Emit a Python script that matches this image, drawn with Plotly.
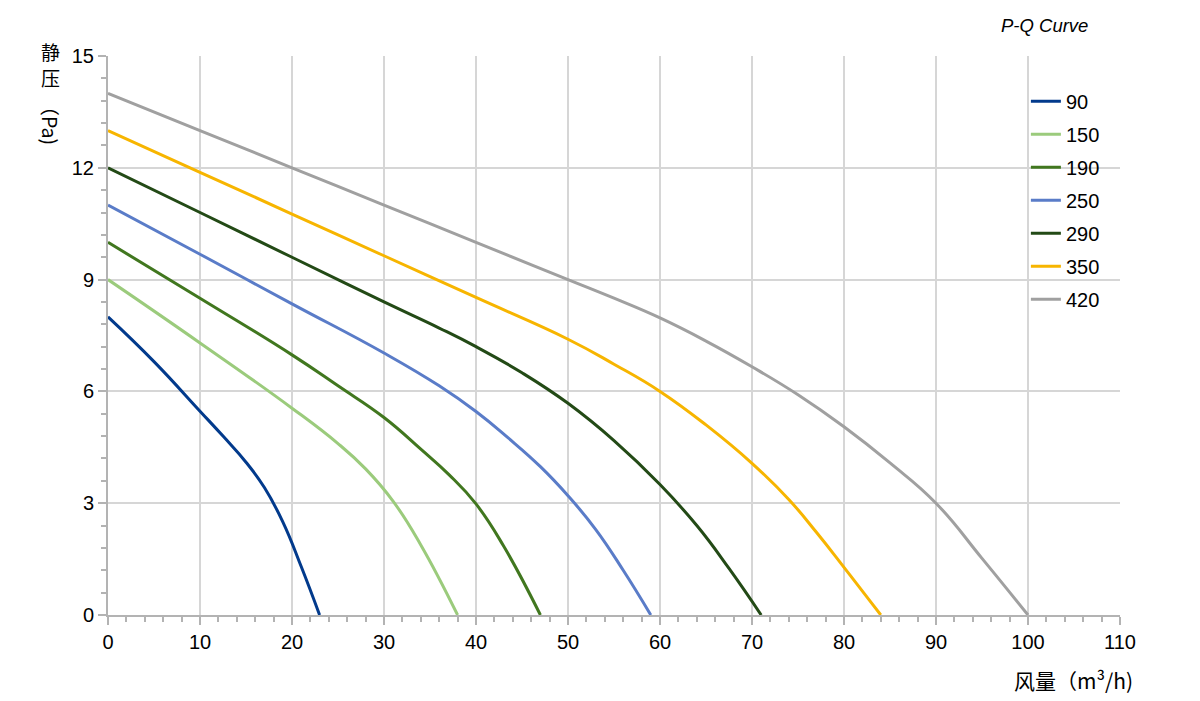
import plotly.graph_objects as go

# Data (airflow Q in m³/h, static pressure P in Pa)
series_names = ["90", "150", "190", "250", "290", "350", "420"]

q_90 = [0, 5, 10, 12.5, 15, 17, 19, 21, 23]
p_90 = [8, 6.8, 5.47, 4.8, 4.1, 3.42, 2.5, 1.3, 0]

q_150 = [0, 10, 20, 25, 28, 31, 34, 38]
p_150 = [9, 7.3, 5.55, 4.6, 3.92, 3.05, 1.88, 0]

q_190 = [0, 10, 20, 25, 30, 34, 37, 40, 43, 47]
p_190 = [10, 8.5, 6.98, 6.15, 5.3, 4.45, 3.78, 2.98, 1.85, 0]

q_250 = [0, 10, 20, 30, 36, 40, 43.5, 47, 50, 53, 56, 59]
p_250 = [11, 9.68, 8.35, 7.03, 6.15, 5.46, 4.75, 3.98, 3.2, 2.3, 1.2, 0]

q_290 = [0, 10, 20, 30, 36, 40, 45, 50, 55, 60, 64, 67.5, 71]
p_290 = [12, 10.8, 9.6, 8.4, 7.7, 7.2, 6.5, 5.68, 4.68, 3.5, 2.4, 1.25, 0]

q_350 = [0, 10, 20, 30, 40, 50, 55, 60, 65, 70, 74, 77, 80, 84]
p_350 = [13, 11.88, 10.76, 9.64, 8.52, 7.4, 6.73, 6.0, 5.1, 4.07, 3.1, 2.22, 1.28, 0]

q_420 = [0, 10, 20, 30, 40, 50, 55, 60, 65, 70, 75, 80, 85, 90, 95, 100]
p_420 = [14, 13, 12, 11, 10, 9.0, 8.5, 7.97, 7.35, 6.66, 5.91, 5.05, 4.08, 3.0, 1.52, 0]

x_ticks = [0, 10, 20, 30, 40, 50, 60, 70, 80, 90, 100, 110]
y_ticks = [0, 3, 6, 9, 12, 15]

colors = ["#023a8c", "#9bcb7c", "#41771f", "#5a7cc8", "#234a16", "#f7b500", "#a0a0a0"]
qs = [q_90, q_150, q_190, q_250, q_290, q_350, q_420]
ps = [p_90, p_150, p_190, p_250, p_290, p_350, p_420]

FONT = "Liberation Sans, Arial, sans-serif"
CJK = "Noto Sans CJK SC, Liberation Sans, sans-serif"

fig = go.Figure()
for name, q, p, c in zip(series_names, qs, ps, colors):
    fig.add_trace(go.Scatter(
        x=q, y=p, name=name, mode="lines",
        line=dict(color=c, width=3, shape="spline", smoothing=1.3),
        legendgroup=name,
    ))

axis_common = dict(
    showline=True, linecolor="#b3b3b3", linewidth=2,
    showgrid=True, gridcolor="#d6d6d6", gridwidth=1.5,
    zeroline=False,
    ticks="outside", ticklen=8, tickwidth=2, tickcolor="#b3b3b3",
    tickfont=dict(family=FONT, size=20, color="#000000"),
)

fig.update_layout(
    width=1200, height=701,
    margin=dict(l=108, r=80, t=56, b=86),
    paper_bgcolor="white", plot_bgcolor="white",
    xaxis=dict(range=[0, 110], tickvals=x_ticks,
               minor=dict(dtick=2, ticks="outside", ticklen=5, tickwidth=1.5,
                          tickcolor="#b3b3b3", showgrid=False),
               **axis_common),
    yaxis=dict(range=[0, 15], tickvals=y_ticks,
               minor=dict(dtick=0.6, ticks="outside", ticklen=5, tickwidth=1.5,
                          tickcolor="#b3b3b3", showgrid=False),
               **axis_common),
    legend=dict(x=0.907, y=0.954, xanchor="left", yanchor="top",
                bgcolor="rgba(255,255,255,0)", tracegroupgap=4,
                font=dict(family=FONT, size=20, color="#000000")),
    showlegend=True,
)

fig.add_annotation(text="<i>P-Q Curve</i>", xref="paper", yref="paper",
                   x=0.970, y=1.055, xanchor="right", yanchor="middle",
                   showarrow=False, font=dict(family=FONT, size=18.5, color="#000000"))
fig.add_annotation(text="风量（m³/h)", xref="paper", yref="paper",
                   x=1.015, y=-0.116, xanchor="right", yanchor="middle",
                   showarrow=False, font=dict(family=CJK, size=21, color="#000000"))
fig.add_annotation(text="静", xref="paper", yref="paper",
                   x=-0.057, y=1.0072, xanchor="center", yanchor="middle",
                   showarrow=False, font=dict(family=CJK, size=19, color="#000000"))
fig.add_annotation(text="压", xref="paper", yref="paper",
                   x=-0.057, y=0.9624, xanchor="center", yanchor="middle",
                   showarrow=False, font=dict(family=CJK, size=19, color="#000000"))
fig.add_annotation(text="（Pa)", xref="paper", yref="paper",
                   x=-0.057, y=0.884, xanchor="center", yanchor="middle", textangle=90,
                   showarrow=False, font=dict(family=CJK, size=19.5, color="#000000"))

fig.write_html("out.html")
